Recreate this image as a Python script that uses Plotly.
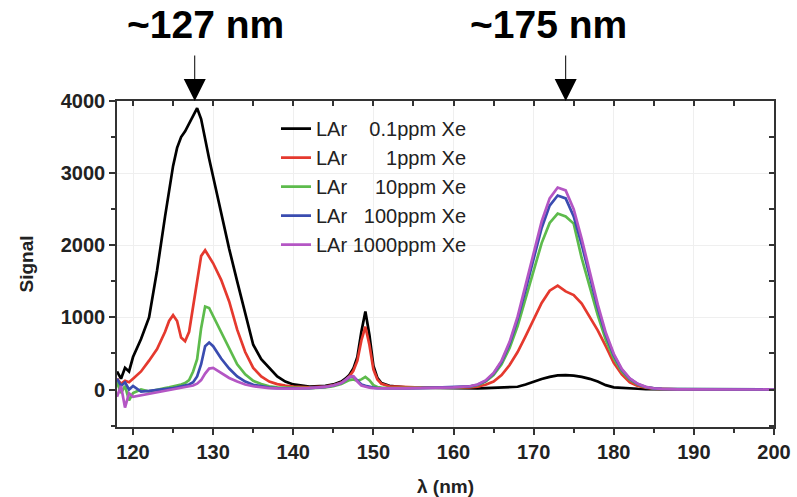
import plotly.graph_objects as go

# ---------------- data ----------------
wavelength = [118, 118.5, 119, 119.5, 120, 121, 122, 123, 124, 124.5,
              125, 125.5, 126, 126.5, 127, 127.5, 128, 128.5, 129, 129.5,
              130, 131, 132, 133, 134, 135, 136, 137, 138, 139,
              140, 142, 144, 145, 146, 146.5, 147, 147.5, 148, 148.5,
              149, 149.5, 150, 150.5, 151, 152, 154, 156, 158, 160,
              162, 163, 164, 165, 166, 167, 168, 169, 170, 171,
              172, 173, 174, 175, 176, 177, 178, 179, 180, 181,
              182, 183, 184, 185, 186, 188, 190, 195, 200]

sig_01ppm = [250, 150, 300, 250, 450, 700, 1000, 1650, 2400, 2750,
             3100, 3350, 3500, 3580, 3680, 3780, 3900, 3750, 3450, 3200,
             2950, 2450, 1950, 1500, 1050, 620, 420, 300, 180, 110,
             70, 40, 50, 70, 110, 150, 200, 290, 450, 800,
             1080, 760, 330, 160, 90, 50, 30, 25, 20, 12,
             12, 14, 18, 22, 24, 28, 38, 70, 110, 145,
             175, 195, 198, 192, 175, 148, 110, 60, 30, 20,
             14, 10, 6, 4, 3, 2, 1, 0, 0]

sig_1ppm = [150, 80, 120, 100, 150, 250, 400, 560, 800, 950,
            1030, 950, 720, 670, 800, 1150, 1500, 1850, 1930, 1830,
            1750, 1520, 1220, 830, 520, 300, 180, 110, 75, 55,
            40, 30, 40, 60, 95, 130, 180, 260, 400, 680,
            870, 620, 280, 140, 80, 45, 30, 25, 25, 25,
            30, 40, 65, 110, 200, 340, 520, 740, 980, 1200,
            1370, 1440, 1360, 1310, 1190, 1010, 820, 600, 370, 210,
            100, 50, 25, 12, 6, 3, 2, 1, 0]

sig_10ppm = [100, -50, 50, -150, -50, 0, -30, 0, 20, 30,
             40, 50, 70, 90, 130, 250, 420, 850, 1150, 1130,
             1020, 800, 560, 350, 210, 120, 75, 45, 30, 25,
             20, 20, 30, 45, 75, 100, 130, 140, 120, 140,
             175, 130, 60, 35, 25, 20, 20, 20, 25, 28,
             40, 60, 108, 200, 350, 575, 880, 1255, 1655, 2030,
             2310, 2440, 2400, 2300, 1820, 1420, 1030, 690, 430, 250,
             135, 68, 32, 15, 7, 4, 2, 1, 0]

sig_100ppm = [150, 50, 100, 0, 50, -30, -20, -10, 0, 10,
              20, 30, 40, 55, 70, 100, 180, 350, 600, 650,
              600, 430, 290, 180, 110, 65, 40, 25, 20, 15,
              15, 20, 35, 55, 90, 130, 170, 180, 120, 70,
              50, 35, 25, 20, 18, 15, 15, 18, 25, 30,
              42, 65, 118, 220, 385, 635, 975, 1385, 1830, 2240,
              2550, 2690, 2650, 2400, 2010, 1570, 1135, 760, 475, 275,
              150, 75, 35, 16, 8, 4, 2, 1, 0]

sig_1000ppm = [-100, 50, -250, -50, -100, -80, -60, -40, -20, -10,
               0, 10, 20, 30, 40, 55, 80, 130, 220, 290,
               300, 230, 160, 110, 70, 45, 30, 20, 15, 12,
               12, 18, 35, 55, 90, 130, 175, 185, 110, 55,
               35, 25, 20, 18, 15, 15, 15, 18, 25, 30,
               45, 70, 125, 230, 400, 660, 1010, 1440, 1900, 2330,
               2650, 2800, 2760, 2500, 2090, 1630, 1180, 790, 495, 285,
               155, 78, 37, 17, 8, 3, 2, 1, 0]

series_names = ["LAr\u00a0\u00a0\u00a0\u00a00.1ppm Xe",
                "LAr\u00a0\u00a0\u00a0\u00a0\u00a0\u00a0\u00a01ppm Xe",
                "LAr\u00a0\u00a0\u00a0\u00a0\u00a010ppm Xe",
                "LAr\u00a0\u00a0\u00a0100ppm Xe",
                "LAr 1000ppm Xe"]
series_values = [sig_01ppm, sig_1ppm, sig_10ppm, sig_100ppm, sig_1000ppm]
series_colors = ["#000000", "#e5392e", "#5dbb4c", "#3a4cb0", "#b456c4"]

x_ticks = [120, 130, 140, 150, 160, 170, 180, 190, 200]
y_ticks = [0, 1000, 2000, 3000, 4000]
x_range = [118, 200]
y_range = [-520, 4000]

peak_labels = ["~127 nm", "~175 nm"]
peak_positions = [127.7, 174.0]
peak_label_paper_x = [0.134, 0.6575]

# ---------------- figure ----------------
FONT = "Liberation Sans, Arial, sans-serif"
fig = go.Figure()

for i, (name, vals, col) in enumerate(zip(series_names, series_values, series_colors)):
    fig.add_trace(go.Scatter(x=wavelength, y=vals, mode="lines", name=name,
                             legendgroup=f"g{i}",
                             line=dict(color=col, width=2.7)))

# invisible trace for mirrored axes
fig.add_trace(go.Scatter(x=x_range, y=y_range, xaxis="x2", yaxis="y2",
                         mode="lines", line=dict(width=0), opacity=0,
                         showlegend=False, hoverinfo="skip"))

axis_line = dict(showline=True, linecolor="#333333", linewidth=1.6, automargin=False)

fig.update_layout(
    width=797, height=497,
    margin=dict(l=117, r=23, t=101, b=70),
    paper_bgcolor="white", plot_bgcolor="white",
    font=dict(family=FONT, color="#222222"),
    xaxis=dict(range=x_range, tickvals=x_ticks, ticks="outside", ticklen=6,
               tickwidth=1.5, tickcolor="#333333",
               minor=dict(dtick=5, tick0=120, ticks="outside", ticklen=4,
                          tickwidth=1.5, tickcolor="#333333", showgrid=False),
               showgrid=True, gridcolor="#efefef", gridwidth=1, zeroline=False,
               tickfont=dict(size=20, weight="bold", color="#222222"),
               title=dict(text="λ (nm)", font=dict(size=19, weight="bold", color="#222222"),
                          standoff=18),
               **axis_line),
    yaxis=dict(range=y_range, tickvals=y_ticks, ticks="outside", ticklen=6,
               tickwidth=1.5, tickcolor="#333333",
               minor=dict(dtick=500, tick0=0, ticks="outside", ticklen=4,
                          tickwidth=1.5, tickcolor="#333333", showgrid=False),
               showgrid=True, gridcolor="#efefef", gridwidth=1, zeroline=False,
               tickfont=dict(size=20, weight="bold", color="#222222"),
               title=dict(text="Signal", font=dict(size=19, weight="bold", color="#222222"),
                          standoff=22),
               **axis_line),
    xaxis2=dict(range=x_range, overlaying="x", side="top", showticklabels=False,
                tickvals=x_ticks, ticks="inside", ticklen=5, tickwidth=1.5,
                tickcolor="#333333",
                minor=dict(dtick=5, tick0=120, ticks="inside", ticklen=5,
                           tickwidth=1.5, tickcolor="#333333", showgrid=False),
                showgrid=False, zeroline=False, **axis_line),
    yaxis2=dict(range=y_range, overlaying="y", side="right", showticklabels=False,
                tickvals=y_ticks, ticks="inside", ticklen=5, tickwidth=1.5,
                tickcolor="#333333",
                minor=dict(dtick=500, tick0=0, ticks="inside", ticklen=5,
                           tickwidth=1.5, tickcolor="#333333", showgrid=False),
                showgrid=False, zeroline=False, **axis_line),
    legend=dict(x=0.242, y=0.975, xanchor="left", yanchor="top",
                bgcolor="rgba(0,0,0,0)", borderwidth=0,
                font=dict(size=20, color="#222222", family=FONT),
                tracegroupgap=0, itemwidth=30),
    showlegend=True,
)

for label, px, lx in zip(peak_labels, peak_positions, peak_label_paper_x):
    fig.add_annotation(x=lx, y=1.236, xref="paper", yref="paper",
                       text=label, showarrow=False, xanchor="center", yanchor="middle",
                       font=dict(size=39, weight="bold", color="#000000", family=FONT))
    fig.add_annotation(x=px, y=1.0, xref="x", yref="paper",
                       ax=0, ay=-47, axref="pixel", ayref="pixel",
                       text="", showarrow=True, arrowhead=2, arrowsize=4.4,
                       arrowwidth=1, arrowcolor="#000000", standoff=0)

fig.write_html("out.html",
               config={"displayModeBar": False},
               post_script="document.body.style.margin='0';document.body.style.overflow='hidden';")
